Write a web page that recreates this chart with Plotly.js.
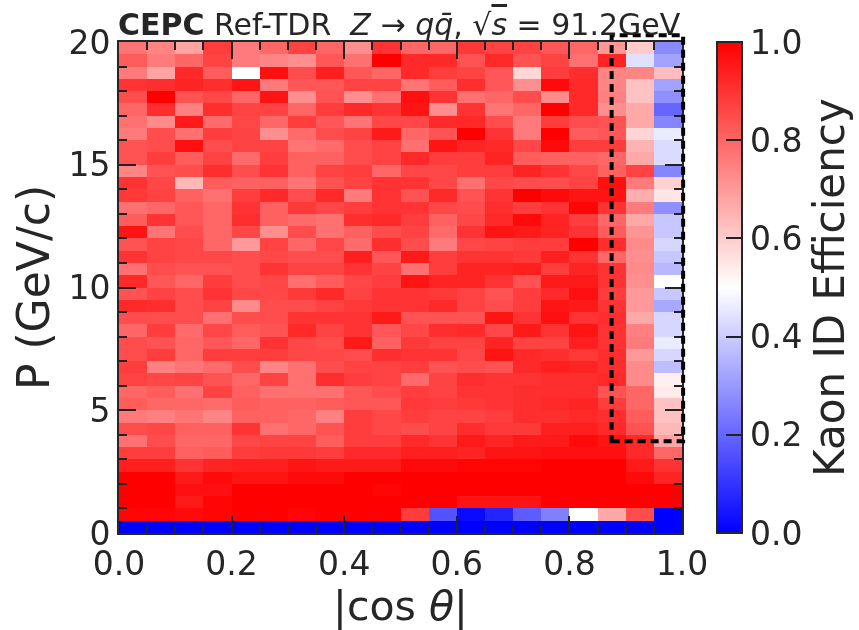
<!DOCTYPE html>
<html><head><meta charset="utf-8">
<script src="https://cdn.plot.ly/plotly-3.0.1.min.js"></script>
<style>html,body{margin:0;padding:0;background:#fff}#chart{filter:blur(0.5px)}</style></head>
<body><div id="chart" style="width:859px;height:630px"></div>
<script>
const cosThetaCenters=[0.025,0.075,0.125,0.175,0.225,0.275,0.325,0.375,0.425,0.475,0.525,0.575,0.625,0.675,0.725,0.775,0.825,0.875,0.925,0.975];
const momentumCenters=[19.75,19.25,18.75,18.25,17.75,17.25,16.75,16.25,15.75,15.25,14.75,14.25,13.75,13.25,12.75,12.25,11.75,11.25,10.75,10.25,9.75,9.25,8.75,8.25,7.75,7.25,6.75,6.25,5.75,5.25,4.75,4.25,3.75,3.25,2.75,2.25,1.75,1.25,0.75,0.25];
const efficiency=[
[.77,.74,.68,.88,.76,.80,.87,.80,.72,.90,.80,.80,.89,.87,.87,.83,.80,.70,.60,.27],
[.82,.76,.80,.87,.76,.74,.72,.83,.78,1.0,.92,.92,.84,.92,.84,.87,.78,.93,.44,.32],
[.76,.68,.92,.82,.50,.97,.85,.94,.83,.80,.92,.88,.87,.83,.58,.88,.91,.74,.74,.63],
[.90,.91,.93,.91,.96,.76,.83,.83,.87,.87,.77,.82,.91,.83,.72,.98,.92,.74,.62,.32],
[.85,1.0,.84,.86,.80,.96,.72,.84,.72,.78,.97,.90,.78,.80,.85,.73,.92,.75,.62,.28],
[.80,.91,.75,.91,.87,.87,.80,.88,.92,.90,.96,.72,.90,.77,.80,1.0,.92,.72,.67,.20],
[.78,.73,.95,.79,.86,.80,.88,.83,.77,.86,.86,.92,.92,.85,.76,.88,.85,.84,.67,.26],
[.76,.85,.78,.88,.87,.72,.79,.85,.87,.95,.80,.84,1.0,.90,.76,1.0,.82,.83,.58,.46],
[.84,.85,.97,.85,.87,.87,.77,.79,.85,.87,.78,.96,.93,.92,.86,.98,.88,.88,.65,.43],
[.84,.88,.82,.87,.79,.88,.81,.81,.85,.87,.92,.88,.88,.93,.82,.81,.81,.80,.67,.43],
[.74,.84,.85,.91,.85,.90,.81,.87,.88,.80,.86,.86,.88,.88,.93,.90,.86,.81,.87,.26],
[.90,.86,.64,.82,.81,.81,.77,.84,.87,.90,.90,.86,.78,.86,.85,.85,.87,.97,.76,.59],
[.89,.87,.81,.78,.88,.92,.85,.92,.76,.90,.84,.92,.84,.90,1.0,.98,.96,.96,.66,.55],
[.78,.80,.83,.80,.90,.81,.89,.86,.88,.90,.90,.86,.85,.91,.88,.90,.99,.90,.76,.28],
[.82,.90,.83,.80,.91,.81,.79,.78,.91,.92,.88,.81,.86,.92,.98,.93,.88,.80,.67,.39],
[.96,.77,.85,.80,.86,.72,.85,.78,.81,.85,.87,.79,.90,.96,.95,.93,.90,.82,.71,.39],
[.84,.87,.86,.80,.70,.87,.80,.86,.79,.91,.85,.76,.86,.87,.88,.88,1.0,.91,.73,.42],
[.90,.87,.86,.86,.85,.86,.85,.85,.94,.83,.95,.88,.90,.90,.89,.94,.90,.80,.72,.39],
[.78,.85,.84,.84,.85,.90,.87,.87,.90,.87,.78,.88,.93,.93,.94,.88,.93,.90,.73,.36],
[.92,.83,.80,.88,.85,.86,.78,.82,.86,.88,.96,.93,.93,.90,.84,.95,.95,.90,.72,.50],
[.84,.87,.85,.90,.86,.86,.89,.92,.87,.90,.90,.89,.87,.84,.88,.92,.97,.88,.70,.39],
[.92,.91,.85,.87,.73,.85,.85,.87,.89,.90,.90,.92,.87,.85,.88,.96,.95,.90,.70,.33],
[.85,.85,.85,.78,.85,.85,.90,.90,.90,.95,.84,.84,.84,.96,.90,.97,.90,.91,.67,.42],
[.80,.88,.79,.86,.82,.84,.92,.87,.90,.83,.86,.91,.92,.86,.95,.90,.96,.90,.75,.42],
[.85,.84,.80,.83,.80,.90,.86,.85,.95,.81,.89,.87,.87,.93,.87,.87,.94,.90,.76,.46],
[.85,.88,.80,.88,.88,.88,.86,.86,.85,.91,.90,.90,.86,.96,.92,.91,.89,.91,.70,.42],
[.88,.75,.77,.79,.85,.74,.78,.85,.87,.87,.88,.84,.85,.84,.92,.94,.93,.91,.73,.37],
[.87,.86,.87,.84,.80,.87,.78,.91,.88,.87,.79,.87,.91,.90,.90,.91,.91,.92,.73,.53],
[.80,.82,.78,.87,.81,.78,.78,.78,.83,.85,.88,.87,.90,.90,.91,.91,.91,.84,.80,.54],
[.82,.80,.80,.79,.82,.81,.81,.82,.83,.83,.89,.88,.89,.90,.91,.92,.93,.88,.80,.62],
[.76,.75,.77,.74,.81,.81,.80,.75,.88,.86,.88,.87,.87,.88,.91,.91,.92,.91,.82,.62],
[.85,.86,.81,.81,.90,.78,.80,.84,.88,.86,.85,.87,.91,.89,.89,.94,.94,.92,.84,.64],
[.78,.85,.80,.80,.86,.87,.87,.82,.88,.88,.92,.90,.95,.93,.95,.95,.98,.96,.92,.68],
[.88,.88,.81,.82,.88,.89,.89,.88,.92,.92,.94,.94,.93,.96,.96,.97,.97,.97,.92,.80],
[.94,.94,.90,.93,.94,.94,.96,.95,.95,.95,.98,.98,.99,.99,.99,1.0,1.0,1.0,.95,.90],
[1.0,1.0,.95,.98,.96,.96,.98,.98,1.0,1.0,1.0,1.0,1.0,1.0,1.0,1.0,1.0,1.0,.98,.93],
[1.0,1.0,.97,.97,1.0,1.0,1.0,1.0,1.0,.99,1.0,1.0,1.0,1.0,1.0,1.0,1.0,1.0,1.0,1.0],
[1.0,1.0,.95,.99,1.0,1.0,1.0,1.0,1.0,1.0,1.0,1.0,.96,.96,.96,1.0,1.0,1.0,1.0,1.0],
[.99,.99,.98,.99,1.0,1.0,.99,1.0,1.0,1.0,.88,.16,.02,.07,.18,.25,.50,.67,.85,0],
[0,0,0,0,0,0,0,0,0,0,0,0,0,0,0,0,0,0,0,0]
];
const colorbarMajor=[0,0.2,0.4,0.6,0.8,1.0];
const colorbarMinor=[0.05,0.1,0.15,0.25,0.3,0.35,0.45,0.5,0.55,0.65,0.7,0.75,0.85,0.9,0.95];
const bwr=[[0,'rgb(0,0,255)'],[0.5,'rgb(255,255,255)'],[1,'rgb(255,0,0)']];
const FONT='"DejaVu Sans", sans-serif', INK='#262626';
const cbBase={x:1.0622,xanchor:'left',y:0.5,yanchor:'middle',len:1,lenmode:'fraction',thickness:25,thicknessmode:'pixels',xpad:0,ypad:0,outlinewidth:2,outlinecolor:INK,tickcolor:'#222',tickwidth:1.5,ticks:'inside'};
function mk(cb){return {type:'heatmap',x:cosThetaCenters,y:momentumCenters,z:efficiency,zmin:0,zmax:1,colorscale:bwr,zsmooth:false,colorbar:cb};}
const traces=[
 mk(Object.assign({},cbBase,{tickmode:'array',tickvals:colorbarMinor,ticktext:colorbarMinor.map(()=>''),ticklen:9,showticklabels:true})),
 mk(Object.assign({},cbBase,{tickmode:'array',tickvals:colorbarMajor,ticktext:['0.0','0.2','0.4','0.6','0.8','1.0'],ticklen:17,tickfont:{family:FONT,size:33,color:INK},title:{text:'Kaon ID Efficiency',side:'right',font:{family:FONT,size:42,color:INK}}}))
];
const layout={width:859,height:630,paper_bgcolor:'#fff',plot_bgcolor:'#fff',showlegend:false,
 margin:{l:119,r:177,t:42,b:97,pad:0,autoexpand:false},
 font:{family:FONT,color:INK},
 xaxis:{range:[0,1],tick0:0,dtick:0.2,tickformat:'.1f',ticks:'inside',ticklen:17,tickwidth:2,tickcolor:'#222',showline:true,linewidth:2,linecolor:INK,mirror:'allticks',showgrid:false,zeroline:false,tickfont:{family:FONT,size:33,color:INK},
  minor:{ticks:'inside',dtick:0.05,tick0:0,ticklen:8,tickwidth:2,tickcolor:'#222',showgrid:false},
  title:{text:'|cos <i>θ</i>|',standoff:2,font:{family:FONT,size:41,color:INK}}},
 yaxis:{range:[0,20],tick0:0,dtick:5,ticks:'inside',ticklen:17,tickwidth:2,tickcolor:'#222',showline:true,linewidth:2,linecolor:INK,mirror:'allticks',showgrid:false,zeroline:false,tickfont:{family:FONT,size:33,color:INK},
  minor:{ticks:'inside',dtick:1,tick0:0,ticklen:8,tickwidth:2,tickcolor:'#222',showgrid:false},
  title:{text:'P (GeV/c)',standoff:5,font:{family:FONT,size:44,color:INK}}},
 shapes:[{type:'rect',xref:'paper',yref:'paper',x0:0.875,x1:1.002,y0:0.187,y1:1.014,line:{color:'#000',width:4,dash:'8px,5px'},layer:'above'}],
 annotations:[{xref:'paper',yref:'paper',x:0,y:1,xshift:-3,yshift:-2,xanchor:'left',yanchor:'bottom',showarrow:false,
  text:'<b>CEPC</b> Ref-TDR  <i>Z</i> → <i>q</i><i>q̄</i>, √<span style="text-decoration:overline"><i>s</i></span> = 91.2GeV',
  font:{family:FONT,size:30,color:INK}}]
};
Plotly.newPlot('chart',traces,layout,{displayModeBar:false,responsive:false});
</script></body></html>
